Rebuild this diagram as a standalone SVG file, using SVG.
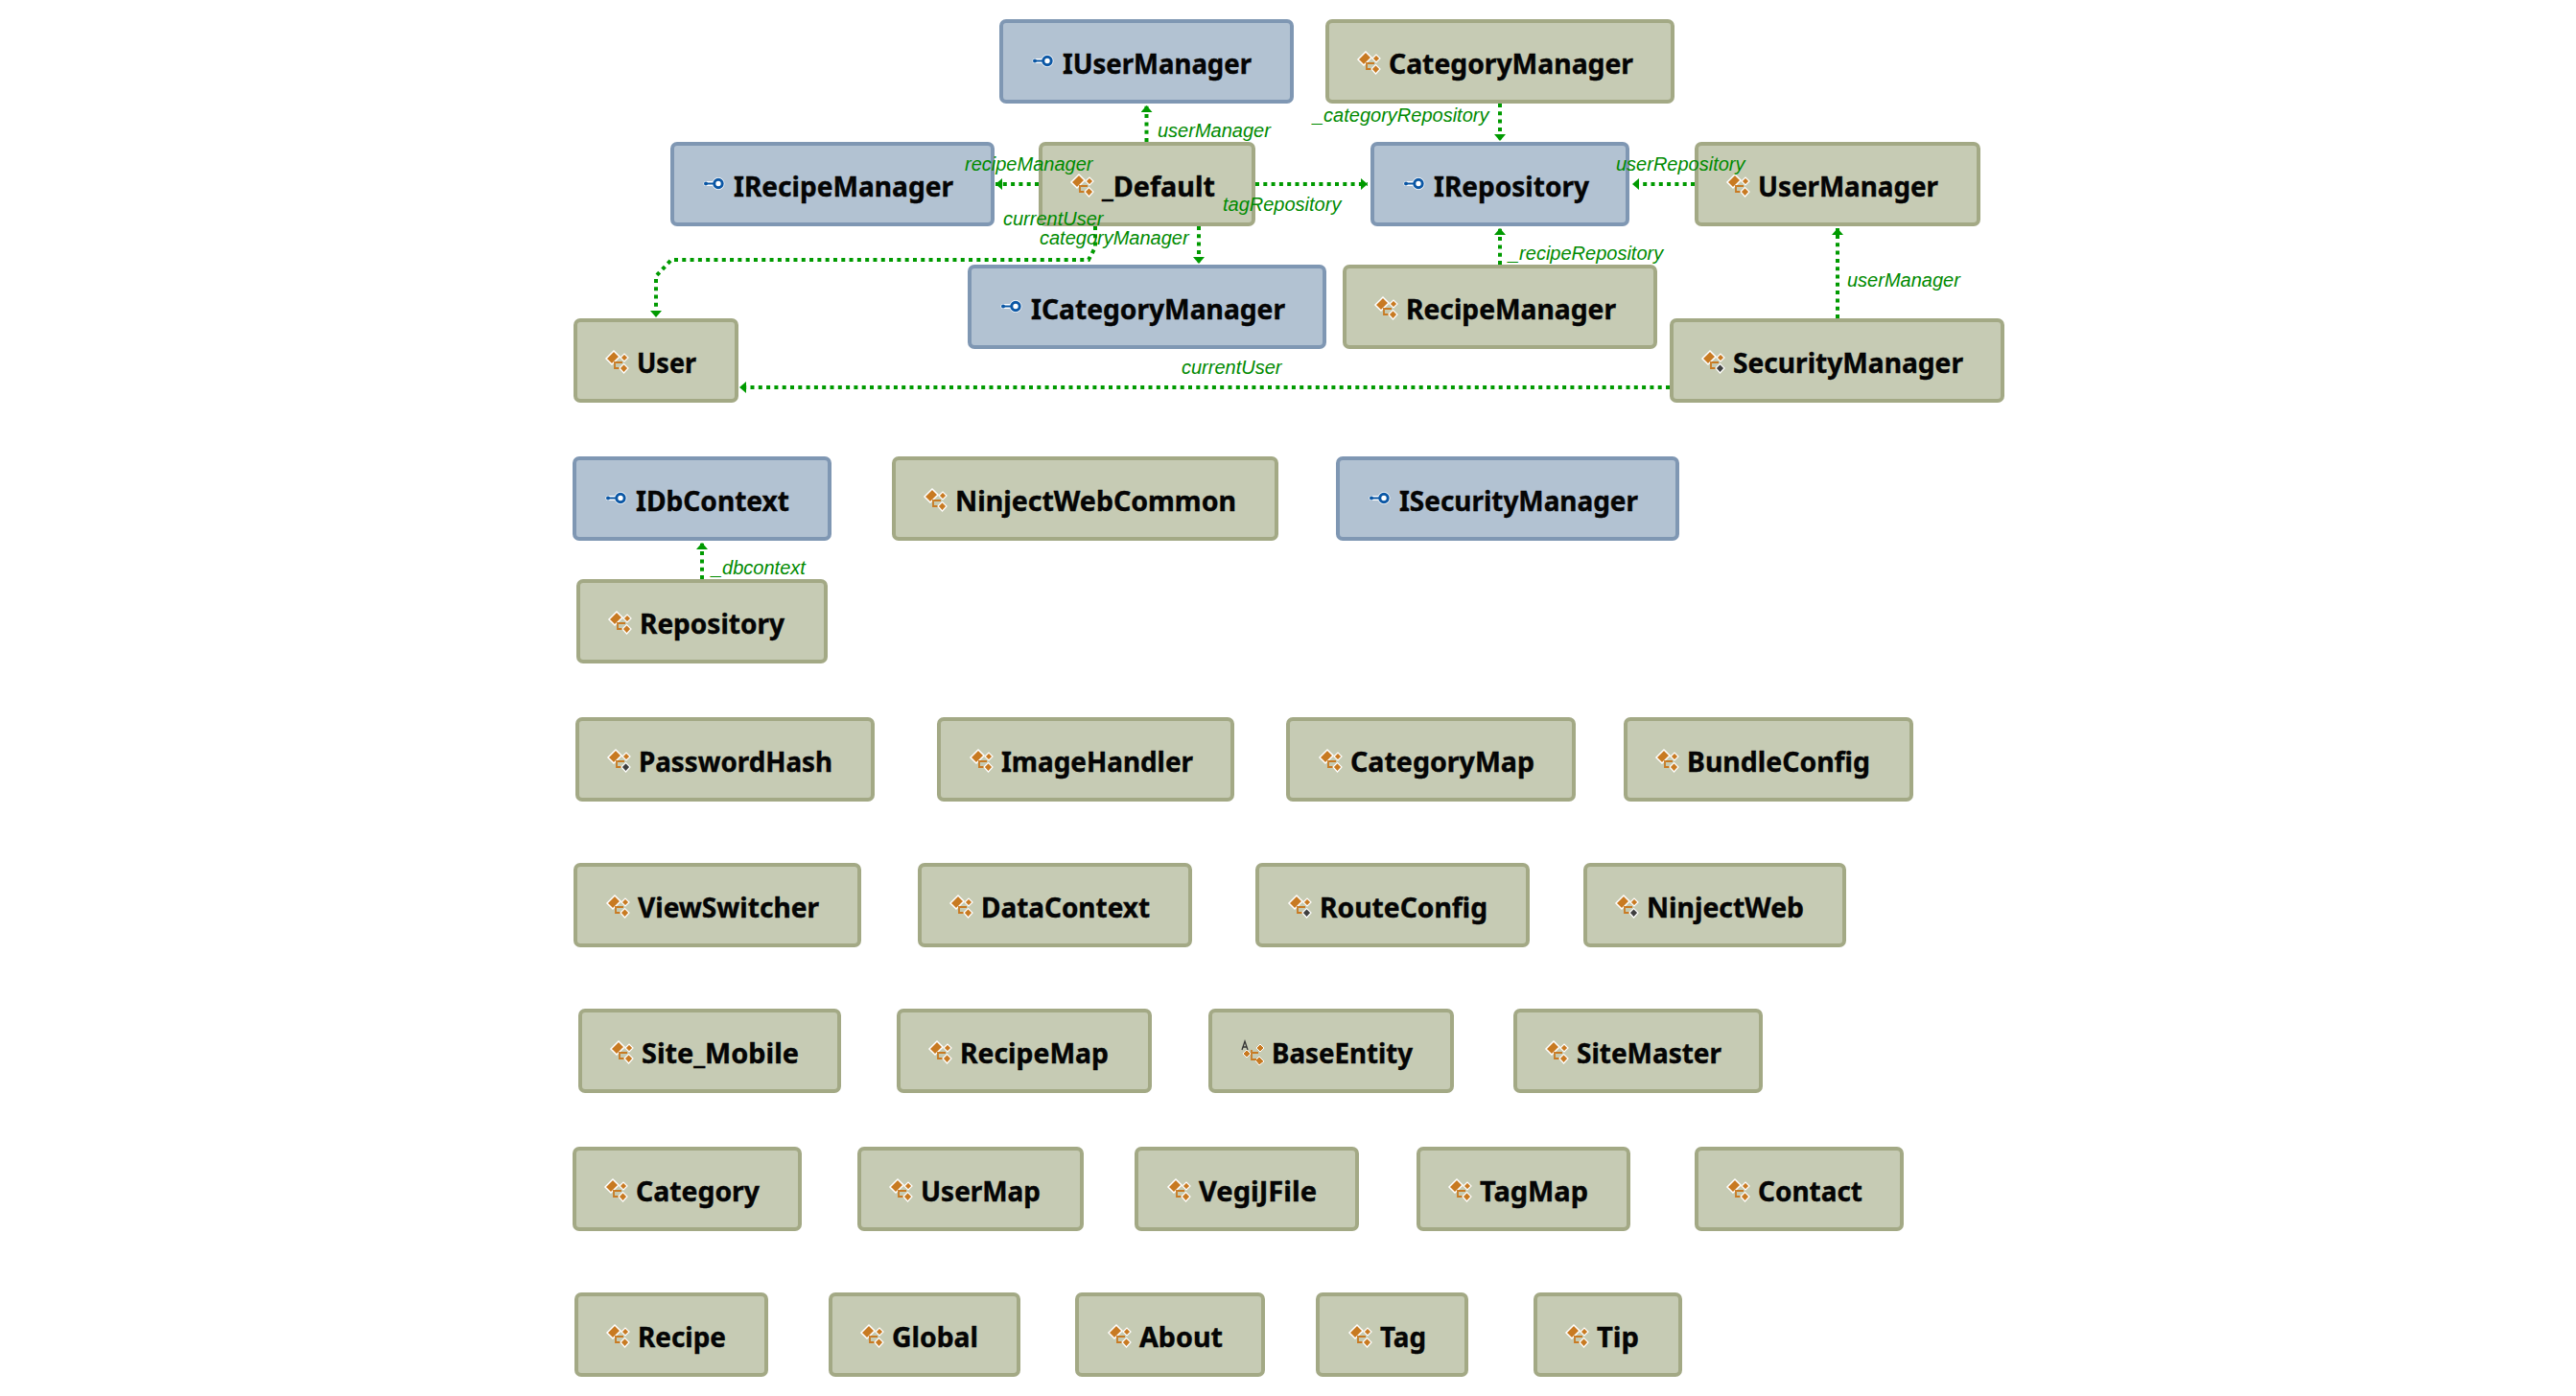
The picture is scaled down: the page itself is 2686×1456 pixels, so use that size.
<svg xmlns="http://www.w3.org/2000/svg" width="2686" height="1456" viewBox="0 0 2686 1456">
<style>
.n{stroke-width:4}
.c{fill:#c6cbb4;stroke:#a3a985}
.i{fill:#b2c2d2;stroke:#7f97b3}
.t{font:700 28px "Noto Sans","Open Sans",sans-serif;fill:#050505;stroke:#050505;stroke-width:.4}
.l{font:italic 20px "Liberation Sans",Arial,sans-serif;fill:#008a00}
.e{fill:none;stroke:#009a00;stroke-width:4;stroke-dasharray:4 4.3}
</style>
<defs>
<marker id="a" markerUnits="userSpaceOnUse" markerWidth="14" markerHeight="14" refX="7" refY="6" orient="auto"><path d="M0 0L7 6L0 12Z" fill="#009a00"/></marker>
<g id="bg"><path d="M0 8L8 0L14 6L6 14Z" fill="#c87a22" stroke="#fff" stroke-width="1.5"/><path d="M15 7L19 3L23 7L19 11Z" fill="#c87a22" stroke="#fff" stroke-width="1.200"/><path d="M9 11V18H15M10 12H17" fill="none" stroke="#c87a22" stroke-width="1.800"/></g>
<g id="ci"><use href="#bg"/><path d="M14 18L18.500 13.500L23 18L18.500 23Z" fill="#c87a22" stroke="#fff" stroke-width="1.200"/></g>
<g id="cs"><use href="#bg"/><path d="M14 18L18.500 13.500L23 18L18.500 23Z" fill="#3f3f3f" stroke="#fff" stroke-width="1.200"/></g>
<g id="ca"><path d="M2 13L6 9L10 13L6 17Z" fill="#c87a22" stroke="#fff"/><path d="M16 7L20 3L24 7L20 11Z" fill="#c87a22" stroke="#fff"/><path d="M15 20L19 16L24 21L19 25Z" fill="#c87a22" stroke="#fff"/><path d="M11 9V19H16M12 12H18" fill="none" stroke="#c87a22" stroke-width="1.800"/><path d="M1 9L4 0L7 9M2 6H6" fill="none" stroke="#333" stroke-width="1.300"/></g>
<g id="ii"><path d="M3 6.500H12" stroke="#fff" stroke-width="5" stroke-linecap="round"/><circle cx="16" cy="6.500" r="6.500" fill="#fff"/><circle cx="3" cy="6.500" r="2" fill="#0b57a5"/><path d="M3 6.500H11" stroke="#0b57a5" stroke-width="2"/><circle cx="16" cy="6.500" r="4.200" fill="none" stroke="#0b57a5" stroke-width="3"/></g>
</defs>
<g id="nodes">
<g id="IUserManager" transform="translate(1042 20)"><rect class="n i" x="2" y="2" width="303" height="84" rx="5"/><use href="#ii" x="34" y="37"/><text class="t" x="66" y="57" textLength="197" lengthAdjust="spacingAndGlyphs">IUserManager</text></g>
<g id="CategoryManager" transform="translate(1382 20)"><rect class="n c" x="2" y="2" width="360" height="84" rx="5"/><use href="#ci" x="34" y="34"/><text class="t" x="66" y="57" textLength="255" lengthAdjust="spacingAndGlyphs">CategoryManager</text></g>
<g id="IRecipeManager" transform="translate(699 148)"><rect class="n i" x="2" y="2" width="334" height="84" rx="5"/><use href="#ii" x="34" y="37"/><text class="t" x="66" y="57" textLength="229" lengthAdjust="spacingAndGlyphs">IRecipeManager</text></g>
<g id="_Default" transform="translate(1083 148)"><rect class="n c" x="2" y="2" width="222" height="84" rx="5"/><use href="#ci" x="34" y="34"/><text class="t" x="66" y="57" textLength="118" lengthAdjust="spacingAndGlyphs">_Default</text></g>
<g id="IRepository" transform="translate(1429 148)"><rect class="n i" x="2" y="2" width="266" height="84" rx="5"/><use href="#ii" x="34" y="37"/><text class="t" x="66" y="57" textLength="162" lengthAdjust="spacingAndGlyphs">IRepository</text></g>
<g id="UserManager" transform="translate(1767 148)"><rect class="n c" x="2" y="2" width="294" height="84" rx="5"/><use href="#ci" x="34" y="34"/><text class="t" x="66" y="57" textLength="188" lengthAdjust="spacingAndGlyphs">UserManager</text></g>
<g id="ICategoryManager" transform="translate(1009 276)"><rect class="n i" x="2" y="2" width="370" height="84" rx="5"/><use href="#ii" x="34" y="37"/><text class="t" x="66" y="57" textLength="265" lengthAdjust="spacingAndGlyphs">ICategoryManager</text></g>
<g id="RecipeManager" transform="translate(1400 276)"><rect class="n c" x="2" y="2" width="324" height="84" rx="5"/><use href="#ci" x="34" y="34"/><text class="t" x="66" y="57" textLength="219" lengthAdjust="spacingAndGlyphs">RecipeManager</text></g>
<g id="User" transform="translate(598 332)"><rect class="n c" x="2" y="2" width="168" height="84" rx="5"/><use href="#ci" x="34" y="34"/><text class="t" x="66" y="57" textLength="62" lengthAdjust="spacingAndGlyphs">User</text></g>
<g id="SecurityManager" transform="translate(1741 332)"><rect class="n c" x="2" y="2" width="345" height="84" rx="5"/><use href="#cs" x="34" y="34"/><text class="t" x="66" y="57" textLength="240" lengthAdjust="spacingAndGlyphs">SecurityManager</text></g>
<g id="IDbContext" transform="translate(597 476)"><rect class="n i" x="2" y="2" width="266" height="84" rx="5"/><use href="#ii" x="34" y="37"/><text class="t" x="66" y="57" textLength="160" lengthAdjust="spacingAndGlyphs">IDbContext</text></g>
<g id="NinjectWebCommon" transform="translate(930 476)"><rect class="n c" x="2" y="2" width="399" height="84" rx="5"/><use href="#ci" x="34" y="34"/><text class="t" x="66" y="57" textLength="293" lengthAdjust="spacingAndGlyphs">NinjectWebCommon</text></g>
<g id="ISecurityManager" transform="translate(1393 476)"><rect class="n i" x="2" y="2" width="354" height="84" rx="5"/><use href="#ii" x="34" y="37"/><text class="t" x="66" y="57" textLength="249" lengthAdjust="spacingAndGlyphs">ISecurityManager</text></g>
<g id="Repository" transform="translate(601 604)"><rect class="n c" x="2" y="2" width="258" height="84" rx="5"/><use href="#ci" x="34" y="34"/><text class="t" x="66" y="57" textLength="151" lengthAdjust="spacingAndGlyphs">Repository</text></g>
<g id="PasswordHash" transform="translate(600 748)"><rect class="n c" x="2" y="2" width="308" height="84" rx="5"/><use href="#cs" x="34" y="34"/><text class="t" x="66" y="57" textLength="202" lengthAdjust="spacingAndGlyphs">PasswordHash</text></g>
<g id="ImageHandler" transform="translate(977 748)"><rect class="n c" x="2" y="2" width="306" height="84" rx="5"/><use href="#ci" x="35" y="34"/><text class="t" x="67" y="57" textLength="200" lengthAdjust="spacingAndGlyphs">ImageHandler</text></g>
<g id="CategoryMap" transform="translate(1341 748)"><rect class="n c" x="2" y="2" width="298" height="84" rx="5"/><use href="#ci" x="35" y="34"/><text class="t" x="67" y="57" textLength="192" lengthAdjust="spacingAndGlyphs">CategoryMap</text></g>
<g id="BundleConfig" transform="translate(1693 748)"><rect class="n c" x="2" y="2" width="298" height="84" rx="5"/><use href="#ci" x="34" y="34"/><text class="t" x="66" y="57" textLength="191" lengthAdjust="spacingAndGlyphs">BundleConfig</text></g>
<g id="ViewSwitcher" transform="translate(598 900)"><rect class="n c" x="2" y="2" width="296" height="84" rx="5"/><use href="#ci" x="35" y="34"/><text class="t" x="67" y="57" textLength="189" lengthAdjust="spacingAndGlyphs">ViewSwitcher</text></g>
<g id="DataContext" transform="translate(957 900)"><rect class="n c" x="2" y="2" width="282" height="84" rx="5"/><use href="#ci" x="34" y="34"/><text class="t" x="66" y="57" textLength="176" lengthAdjust="spacingAndGlyphs">DataContext</text></g>
<g id="RouteConfig" transform="translate(1309 900)"><rect class="n c" x="2" y="2" width="282" height="84" rx="5"/><use href="#cs" x="35" y="34"/><text class="t" x="67" y="57" textLength="175" lengthAdjust="spacingAndGlyphs">RouteConfig</text></g>
<g id="NinjectWeb" transform="translate(1651 900)"><rect class="n c" x="2" y="2" width="270" height="84" rx="5"/><use href="#cs" x="34" y="34"/><text class="t" x="66" y="57" textLength="164" lengthAdjust="spacingAndGlyphs">NinjectWeb</text></g>
<g id="Site_Mobile" transform="translate(603 1052)"><rect class="n c" x="2" y="2" width="270" height="84" rx="5"/><use href="#ci" x="34" y="34"/><text class="t" x="66" y="57" textLength="164" lengthAdjust="spacingAndGlyphs">Site_Mobile</text></g>
<g id="RecipeMap" transform="translate(935 1052)"><rect class="n c" x="2" y="2" width="262" height="84" rx="5"/><use href="#ci" x="34" y="34"/><text class="t" x="66" y="57" textLength="155" lengthAdjust="spacingAndGlyphs">RecipeMap</text></g>
<g id="BaseEntity" transform="translate(1260 1052)"><rect class="n c" x="2" y="2" width="252" height="84" rx="5"/><use href="#ca" x="34" y="34"/><text class="t" x="66" y="57" textLength="147" lengthAdjust="spacingAndGlyphs">BaseEntity</text></g>
<g id="SiteMaster" transform="translate(1578 1052)"><rect class="n c" x="2" y="2" width="256" height="84" rx="5"/><use href="#ci" x="34" y="34"/><text class="t" x="66" y="57" textLength="151" lengthAdjust="spacingAndGlyphs">SiteMaster</text></g>
<g id="Category" transform="translate(597 1196)"><rect class="n c" x="2" y="2" width="235" height="84" rx="5"/><use href="#ci" x="34" y="34"/><text class="t" x="66" y="57" textLength="129" lengthAdjust="spacingAndGlyphs">Category</text></g>
<g id="UserMap" transform="translate(894 1196)"><rect class="n c" x="2" y="2" width="232" height="84" rx="5"/><use href="#ci" x="34" y="34"/><text class="t" x="66" y="57" textLength="125" lengthAdjust="spacingAndGlyphs">UserMap</text></g>
<g id="VegiJFile" transform="translate(1183 1196)"><rect class="n c" x="2" y="2" width="230" height="84" rx="5"/><use href="#ci" x="35" y="34"/><text class="t" x="67" y="57" textLength="123" lengthAdjust="spacingAndGlyphs">VegiJFile</text></g>
<g id="TagMap" transform="translate(1477 1196)"><rect class="n c" x="2" y="2" width="219" height="84" rx="5"/><use href="#ci" x="34" y="34"/><text class="t" x="66" y="57" textLength="113" lengthAdjust="spacingAndGlyphs">TagMap</text></g>
<g id="Contact" transform="translate(1767 1196)"><rect class="n c" x="2" y="2" width="214" height="84" rx="5"/><use href="#ci" x="34" y="34"/><text class="t" x="66" y="57" textLength="109" lengthAdjust="spacingAndGlyphs">Contact</text></g>
<g id="Recipe" transform="translate(599 1348)"><rect class="n c" x="2" y="2" width="198" height="84" rx="5"/><use href="#ci" x="34" y="34"/><text class="t" x="66" y="57" textLength="92" lengthAdjust="spacingAndGlyphs">Recipe</text></g>
<g id="Global" transform="translate(864 1348)"><rect class="n c" x="2" y="2" width="196" height="84" rx="5"/><use href="#ci" x="34" y="34"/><text class="t" x="66" y="57" textLength="90" lengthAdjust="spacingAndGlyphs">Global</text></g>
<g id="About" transform="translate(1121 1348)"><rect class="n c" x="2" y="2" width="194" height="84" rx="5"/><use href="#ci" x="35" y="34"/><text class="t" x="67" y="57" textLength="87" lengthAdjust="spacingAndGlyphs">About</text></g>
<g id="Tag" transform="translate(1372 1348)"><rect class="n c" x="2" y="2" width="155" height="84" rx="5"/><use href="#ci" x="35" y="34"/><text class="t" x="67" y="57" textLength="48" lengthAdjust="spacingAndGlyphs">Tag</text></g>
<g id="Tip" transform="translate(1599 1348)"><rect class="n c" x="2" y="2" width="151" height="84" rx="5"/><use href="#ci" x="34" y="34"/><text class="t" x="66" y="57" textLength="44" lengthAdjust="spacingAndGlyphs">Tip</text></g>
</g>
<g id="connectors">
<path class="e" marker-end="url(#a)" d="M1195.500 148V110"/>
<path class="e" marker-end="url(#a)" d="M1564 108V147"/>
<path class="e" marker-end="url(#a)" d="M1083 192H1038"/>
<path class="e" marker-end="url(#a)" d="M1309 192H1426"/>
<path class="e" marker-end="url(#a)" d="M1767 192H1702"/>
<path class="e" marker-end="url(#a)" d="M1564 276V238"/>
<path class="e" marker-end="url(#a)" d="M1250 236V275"/>
<path class="e" marker-end="url(#a)" d="M1142 236V258L1135 271H700L684 288V331"/>
<path class="e" marker-end="url(#a)" d="M1741 404H771"/>
<path class="e" marker-end="url(#a)" d="M1916 332V238"/>
<path class="e" marker-end="url(#a)" d="M732 604V566"/>
<text class="l" x="1207" y="143">userManager</text>
<text class="l" x="1369" y="127">_categoryRepository</text>
<text class="l" x="1006" y="178">recipeManager</text>
<text class="l" x="1685" y="178">userRepository</text>
<text class="l" x="1275" y="220">tagRepository</text>
<text class="l" x="1046" y="235">currentUser</text>
<text class="l" x="1084" y="255">categoryManager</text>
<text class="l" x="1573" y="271">_recipeRepository</text>
<text class="l" x="1926" y="299">userManager</text>
<text class="l" x="1232" y="390">currentUser</text>
<text class="l" x="742" y="599">_dbcontext</text>
</g>
</svg>
